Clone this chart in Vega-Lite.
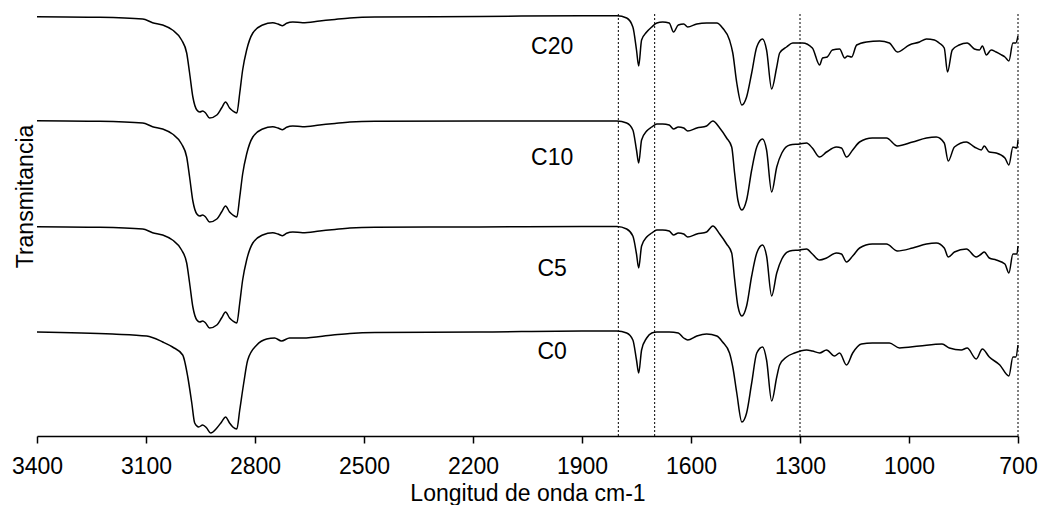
{
  "$schema": "https://vega.github.io/schema/vega-lite/v6.json",
  "width": 981,
  "height": 422,
  "autosize": {"type": "none"},
  "padding": {"left": 37, "top": 14, "right": 20, "bottom": 69},
  "background": "white",
  "config": {"view": {"stroke": null}, "font": "Liberation Sans"},
  "datasets": {
    "espectros": [
      {"serie":"C20","onda":3400,"T":419.3},{"serie":"C20","onda":3227,"T":418.7},{"serie":"C20","onda":3109,"T":417},{"serie":"C20","onda":3082,"T":413.3},{"serie":"C20","onda":3054,"T":411},{"serie":"C20","onda":3027,"T":406},{"serie":"C20","onda":3002,"T":396},{"serie":"C20","onda":2988,"T":383},{"serie":"C20","onda":2980,"T":363},{"serie":"C20","onda":2971,"T":339},{"serie":"C20","onda":2960,"T":326},{"serie":"C20","onda":2952,"T":324},{"serie":"C20","onda":2944,"T":325},{"serie":"C20","onda":2936,"T":323},{"serie":"C20","onda":2925,"T":318},{"serie":"C20","onda":2905,"T":321},{"serie":"C20","onda":2892,"T":328},{"serie":"C20","onda":2881,"T":334},{"serie":"C20","onda":2870,"T":328},{"serie":"C20","onda":2861,"T":325},{"serie":"C20","onda":2850,"T":323},{"serie":"C20","onda":2842,"T":343},{"serie":"C20","onda":2834,"T":366},{"serie":"C20","onda":2823,"T":386},{"serie":"C20","onda":2806,"T":403},{"serie":"C20","onda":2779,"T":411},{"serie":"C20","onda":2751,"T":413.3},{"serie":"C20","onda":2737,"T":412},{"serie":"C20","onda":2724,"T":410.3},{"serie":"C20","onda":2713,"T":412.7},{"serie":"C20","onda":2696,"T":414},{"serie":"C20","onda":2669,"T":413.3},{"serie":"C20","onda":2622,"T":415},{"serie":"C20","onda":2580,"T":416.6},{"serie":"C20","onda":2539,"T":418},{"serie":"C20","onda":2470,"T":419},{"serie":"C20","onda":2182,"T":419.5},{"serie":"C20","onda":1900,"T":420.3},{"serie":"C20","onda":1804,"T":420.3},{"serie":"C20","onda":1777,"T":418},{"serie":"C20","onda":1760,"T":409},{"serie":"C20","onda":1750,"T":386},{"serie":"C20","onda":1744,"T":370},{"serie":"C20","onda":1736,"T":396},{"serie":"C20","onda":1722,"T":404},{"serie":"C20","onda":1708,"T":409},{"serie":"C20","onda":1694,"T":413},{"serie":"C20","onda":1678,"T":414},{"serie":"C20","onda":1660,"T":413},{"serie":"C20","onda":1648,"T":404},{"serie":"C20","onda":1635,"T":411},{"serie":"C20","onda":1620,"T":412},{"serie":"C20","onda":1609,"T":409},{"serie":"C20","onda":1584,"T":412},{"serie":"C20","onda":1557,"T":413},{"serie":"C20","onda":1529,"T":413},{"serie":"C20","onda":1513,"T":408},{"serie":"C20","onda":1494,"T":396},{"serie":"C20","onda":1485,"T":383},{"serie":"C20","onda":1474,"T":353},{"serie":"C20","onda":1460,"T":331},{"serie":"C20","onda":1447,"T":339},{"serie":"C20","onda":1433,"T":363},{"serie":"C20","onda":1419,"T":389},{"serie":"C20","onda":1403,"T":397},{"serie":"C20","onda":1392,"T":386},{"serie":"C20","onda":1378,"T":347},{"serie":"C20","onda":1364,"T":369},{"serie":"C20","onda":1356,"T":383},{"serie":"C20","onda":1337,"T":389},{"serie":"C20","onda":1320,"T":393},{"serie":"C20","onda":1293,"T":393},{"serie":"C20","onda":1266,"T":388},{"serie":"C20","onda":1246,"T":371},{"serie":"C20","onda":1238,"T":378},{"serie":"C20","onda":1225,"T":379},{"serie":"C20","onda":1211,"T":386},{"serie":"C20","onda":1191,"T":387},{"serie":"C20","onda":1177,"T":378},{"serie":"C20","onda":1169,"T":380},{"serie":"C20","onda":1158,"T":379},{"serie":"C20","onda":1144,"T":391},{"serie":"C20","onda":1117,"T":394},{"serie":"C20","onda":1081,"T":395},{"serie":"C20","onda":1054,"T":393},{"serie":"C20","onda":1032,"T":384},{"serie":"C20","onda":999,"T":391},{"serie":"C20","onda":971,"T":394},{"serie":"C20","onda":952,"T":397},{"serie":"C20","onda":930,"T":396},{"serie":"C20","onda":917,"T":393},{"serie":"C20","onda":903,"T":388},{"serie":"C20","onda":894,"T":364},{"serie":"C20","onda":881,"T":386},{"serie":"C20","onda":862,"T":391},{"serie":"C20","onda":840,"T":393},{"serie":"C20","onda":820,"T":387},{"serie":"C20","onda":806,"T":386},{"serie":"C20","onda":798,"T":390},{"serie":"C20","onda":787,"T":381},{"serie":"C20","onda":774,"T":386},{"serie":"C20","onda":760,"T":384},{"serie":"C20","onda":745,"T":381},{"serie":"C20","onda":736,"T":379},{"serie":"C20","onda":725,"T":375},{"serie":"C20","onda":714,"T":393},{"serie":"C20","onda":706,"T":393},{"serie":"C20","onda":700,"T":400},

      {"serie":"C10","onda":3400,"T":315.3},{"serie":"C10","onda":3227,"T":314.7},{"serie":"C10","onda":3109,"T":313},{"serie":"C10","onda":3082,"T":309.3},{"serie":"C10","onda":3054,"T":307},{"serie":"C10","onda":3027,"T":302},{"serie":"C10","onda":3002,"T":292},{"serie":"C10","onda":2988,"T":279},{"serie":"C10","onda":2980,"T":259},{"serie":"C10","onda":2971,"T":235},{"serie":"C10","onda":2960,"T":222},{"serie":"C10","onda":2952,"T":220},{"serie":"C10","onda":2944,"T":221},{"serie":"C10","onda":2936,"T":219},{"serie":"C10","onda":2925,"T":214},{"serie":"C10","onda":2905,"T":217},{"serie":"C10","onda":2892,"T":224},{"serie":"C10","onda":2881,"T":230},{"serie":"C10","onda":2870,"T":224},{"serie":"C10","onda":2861,"T":221},{"serie":"C10","onda":2850,"T":219},{"serie":"C10","onda":2842,"T":239},{"serie":"C10","onda":2834,"T":262},{"serie":"C10","onda":2823,"T":282},{"serie":"C10","onda":2806,"T":299},{"serie":"C10","onda":2779,"T":307},{"serie":"C10","onda":2751,"T":309.3},{"serie":"C10","onda":2737,"T":308},{"serie":"C10","onda":2724,"T":306.3},{"serie":"C10","onda":2713,"T":308.7},{"serie":"C10","onda":2696,"T":310},{"serie":"C10","onda":2669,"T":309.3},{"serie":"C10","onda":2622,"T":311},{"serie":"C10","onda":2580,"T":312.6},{"serie":"C10","onda":2539,"T":314},{"serie":"C10","onda":2470,"T":314.8},{"serie":"C10","onda":2182,"T":315},{"serie":"C10","onda":1900,"T":315},{"serie":"C10","onda":1804,"T":315},{"serie":"C10","onda":1777,"T":313},{"serie":"C10","onda":1760,"T":306},{"serie":"C10","onda":1750,"T":286},{"serie":"C10","onda":1744,"T":273},{"serie":"C10","onda":1736,"T":296},{"serie":"C10","onda":1722,"T":305},{"serie":"C10","onda":1708,"T":309},{"serie":"C10","onda":1694,"T":312},{"serie":"C10","onda":1678,"T":312},{"serie":"C10","onda":1660,"T":311},{"serie":"C10","onda":1648,"T":307},{"serie":"C10","onda":1635,"T":309},{"serie":"C10","onda":1620,"T":308},{"serie":"C10","onda":1609,"T":305},{"serie":"C10","onda":1584,"T":308},{"serie":"C10","onda":1557,"T":310},{"serie":"C10","onda":1540,"T":315},{"serie":"C10","onda":1521,"T":308},{"serie":"C10","onda":1502,"T":298},{"serie":"C10","onda":1488,"T":289},{"serie":"C10","onda":1480,"T":263},{"serie":"C10","onda":1471,"T":236},{"serie":"C10","onda":1460,"T":226},{"serie":"C10","onda":1447,"T":236},{"serie":"C10","onda":1433,"T":266},{"serie":"C10","onda":1419,"T":289},{"serie":"C10","onda":1403,"T":297},{"serie":"C10","onda":1392,"T":286},{"serie":"C10","onda":1378,"T":244},{"serie":"C10","onda":1364,"T":269},{"serie":"C10","onda":1350,"T":283},{"serie":"C10","onda":1328,"T":291},{"serie":"C10","onda":1301,"T":292},{"serie":"C10","onda":1282,"T":293},{"serie":"C10","onda":1266,"T":288},{"serie":"C10","onda":1246,"T":279},{"serie":"C10","onda":1227,"T":284},{"serie":"C10","onda":1200,"T":289},{"serie":"C10","onda":1186,"T":288},{"serie":"C10","onda":1172,"T":279},{"serie":"C10","onda":1155,"T":286},{"serie":"C10","onda":1136,"T":294},{"serie":"C10","onda":1101,"T":298},{"serie":"C10","onda":1062,"T":298},{"serie":"C10","onda":1032,"T":290},{"serie":"C10","onda":990,"T":294},{"serie":"C10","onda":952,"T":298},{"serie":"C10","onda":925,"T":299},{"serie":"C10","onda":903,"T":293},{"serie":"C10","onda":892,"T":275},{"serie":"C10","onda":875,"T":289},{"serie":"C10","onda":842,"T":294},{"serie":"C10","onda":820,"T":289},{"serie":"C10","onda":801,"T":286},{"serie":"C10","onda":793,"T":290},{"serie":"C10","onda":779,"T":284},{"serie":"C10","onda":760,"T":283},{"serie":"C10","onda":736,"T":278},{"serie":"C10","onda":725,"T":271},{"serie":"C10","onda":714,"T":289},{"serie":"C10","onda":703,"T":288},{"serie":"C10","onda":700,"T":296},

      {"serie":"C5","onda":3400,"T":209.3},{"serie":"C5","onda":3227,"T":208.7},{"serie":"C5","onda":3109,"T":207},{"serie":"C5","onda":3082,"T":203.3},{"serie":"C5","onda":3054,"T":201},{"serie":"C5","onda":3027,"T":196},{"serie":"C5","onda":3002,"T":186},{"serie":"C5","onda":2988,"T":173},{"serie":"C5","onda":2980,"T":153},{"serie":"C5","onda":2971,"T":129},{"serie":"C5","onda":2960,"T":116},{"serie":"C5","onda":2952,"T":114},{"serie":"C5","onda":2944,"T":115},{"serie":"C5","onda":2936,"T":113},{"serie":"C5","onda":2925,"T":108},{"serie":"C5","onda":2905,"T":111},{"serie":"C5","onda":2892,"T":118},{"serie":"C5","onda":2881,"T":124},{"serie":"C5","onda":2870,"T":118},{"serie":"C5","onda":2861,"T":115},{"serie":"C5","onda":2850,"T":113},{"serie":"C5","onda":2842,"T":133},{"serie":"C5","onda":2834,"T":156},{"serie":"C5","onda":2823,"T":176},{"serie":"C5","onda":2806,"T":193},{"serie":"C5","onda":2779,"T":201},{"serie":"C5","onda":2751,"T":203.3},{"serie":"C5","onda":2737,"T":202},{"serie":"C5","onda":2724,"T":200.3},{"serie":"C5","onda":2713,"T":202.7},{"serie":"C5","onda":2696,"T":204},{"serie":"C5","onda":2669,"T":203.3},{"serie":"C5","onda":2622,"T":205},{"serie":"C5","onda":2580,"T":206.6},{"serie":"C5","onda":2539,"T":208},{"serie":"C5","onda":2470,"T":208.8},{"serie":"C5","onda":2182,"T":209},{"serie":"C5","onda":1900,"T":209.5},{"serie":"C5","onda":1804,"T":209.5},{"serie":"C5","onda":1777,"T":207},{"serie":"C5","onda":1760,"T":200},{"serie":"C5","onda":1750,"T":182},{"serie":"C5","onda":1744,"T":168},{"serie":"C5","onda":1736,"T":190},{"serie":"C5","onda":1722,"T":199},{"serie":"C5","onda":1708,"T":203},{"serie":"C5","onda":1694,"T":206},{"serie":"C5","onda":1678,"T":206},{"serie":"C5","onda":1660,"T":205},{"serie":"C5","onda":1648,"T":201},{"serie":"C5","onda":1635,"T":203},{"serie":"C5","onda":1620,"T":202},{"serie":"C5","onda":1609,"T":199},{"serie":"C5","onda":1584,"T":202},{"serie":"C5","onda":1557,"T":204},{"serie":"C5","onda":1540,"T":210},{"serie":"C5","onda":1521,"T":202},{"serie":"C5","onda":1502,"T":192},{"serie":"C5","onda":1488,"T":183},{"serie":"C5","onda":1480,"T":157},{"serie":"C5","onda":1471,"T":130},{"serie":"C5","onda":1460,"T":120},{"serie":"C5","onda":1447,"T":130},{"serie":"C5","onda":1433,"T":160},{"serie":"C5","onda":1419,"T":183},{"serie":"C5","onda":1403,"T":191},{"serie":"C5","onda":1392,"T":180},{"serie":"C5","onda":1378,"T":140},{"serie":"C5","onda":1364,"T":163},{"serie":"C5","onda":1350,"T":177},{"serie":"C5","onda":1328,"T":185},{"serie":"C5","onda":1301,"T":186},{"serie":"C5","onda":1282,"T":187},{"serie":"C5","onda":1266,"T":182},{"serie":"C5","onda":1246,"T":176},{"serie":"C5","onda":1227,"T":178},{"serie":"C5","onda":1200,"T":183},{"serie":"C5","onda":1186,"T":182},{"serie":"C5","onda":1172,"T":174},{"serie":"C5","onda":1155,"T":180},{"serie":"C5","onda":1136,"T":188},{"serie":"C5","onda":1101,"T":192},{"serie":"C5","onda":1062,"T":192},{"serie":"C5","onda":1032,"T":185},{"serie":"C5","onda":990,"T":188},{"serie":"C5","onda":952,"T":192},{"serie":"C5","onda":925,"T":193},{"serie":"C5","onda":903,"T":188},{"serie":"C5","onda":892,"T":179},{"serie":"C5","onda":875,"T":184},{"serie":"C5","onda":842,"T":187},{"serie":"C5","onda":815,"T":179},{"serie":"C5","onda":801,"T":182},{"serie":"C5","onda":793,"T":184},{"serie":"C5","onda":779,"T":178},{"serie":"C5","onda":760,"T":176},{"serie":"C5","onda":736,"T":172},{"serie":"C5","onda":725,"T":163},{"serie":"C5","onda":714,"T":182},{"serie":"C5","onda":703,"T":182},{"serie":"C5","onda":700,"T":190},

      {"serie":"C0","onda":3400,"T":104},{"serie":"C0","onda":3192,"T":102},{"serie":"C0","onda":3098,"T":100},{"serie":"C0","onda":3054,"T":94},{"serie":"C0","onda":3027,"T":89},{"serie":"C0","onda":2999,"T":81},{"serie":"C0","onda":2985,"T":59},{"serie":"C0","onda":2974,"T":33},{"serie":"C0","onda":2966,"T":13},{"serie":"C0","onda":2955,"T":9},{"serie":"C0","onda":2944,"T":11},{"serie":"C0","onda":2933,"T":8},{"serie":"C0","onda":2922,"T":3},{"serie":"C0","onda":2905,"T":8},{"serie":"C0","onda":2892,"T":14},{"serie":"C0","onda":2881,"T":19},{"serie":"C0","onda":2870,"T":13},{"serie":"C0","onda":2861,"T":9},{"serie":"C0","onda":2850,"T":7},{"serie":"C0","onda":2842,"T":26},{"serie":"C0","onda":2831,"T":53},{"serie":"C0","onda":2820,"T":76},{"serie":"C0","onda":2795,"T":91},{"serie":"C0","onda":2768,"T":97},{"serie":"C0","onda":2746,"T":98},{"serie":"C0","onda":2727,"T":95},{"serie":"C0","onda":2705,"T":98},{"serie":"C0","onda":2669,"T":98},{"serie":"C0","onda":2586,"T":101},{"serie":"C0","onda":2539,"T":102.6},{"serie":"C0","onda":2470,"T":103.6},{"serie":"C0","onda":2182,"T":104},{"serie":"C0","onda":1900,"T":105},{"serie":"C0","onda":1804,"T":105},{"serie":"C0","onda":1777,"T":103},{"serie":"C0","onda":1760,"T":96},{"serie":"C0","onda":1750,"T":76},{"serie":"C0","onda":1744,"T":63},{"serie":"C0","onda":1736,"T":86},{"serie":"C0","onda":1722,"T":98},{"serie":"C0","onda":1708,"T":103},{"serie":"C0","onda":1694,"T":104},{"serie":"C0","onda":1660,"T":104},{"serie":"C0","onda":1635,"T":103},{"serie":"C0","onda":1620,"T":98},{"serie":"C0","onda":1609,"T":96},{"serie":"C0","onda":1584,"T":100},{"serie":"C0","onda":1557,"T":102},{"serie":"C0","onda":1529,"T":100},{"serie":"C0","onda":1513,"T":94},{"serie":"C0","onda":1494,"T":83},{"serie":"C0","onda":1485,"T":69},{"serie":"C0","onda":1474,"T":43},{"serie":"C0","onda":1460,"T":14},{"serie":"C0","onda":1447,"T":23},{"serie":"C0","onda":1433,"T":53},{"serie":"C0","onda":1419,"T":83},{"serie":"C0","onda":1403,"T":89},{"serie":"C0","onda":1392,"T":76},{"serie":"C0","onda":1378,"T":35},{"serie":"C0","onda":1364,"T":59},{"serie":"C0","onda":1356,"T":71},{"serie":"C0","onda":1337,"T":79},{"serie":"C0","onda":1315,"T":83},{"serie":"C0","onda":1282,"T":86},{"serie":"C0","onda":1266,"T":85},{"serie":"C0","onda":1246,"T":83},{"serie":"C0","onda":1227,"T":86},{"serie":"C0","onda":1205,"T":80},{"serie":"C0","onda":1191,"T":83},{"serie":"C0","onda":1172,"T":71},{"serie":"C0","onda":1155,"T":83},{"serie":"C0","onda":1131,"T":92},{"serie":"C0","onda":1101,"T":93},{"serie":"C0","onda":1054,"T":93},{"serie":"C0","onda":1026,"T":88},{"serie":"C0","onda":971,"T":90},{"serie":"C0","onda":909,"T":92},{"serie":"C0","onda":889,"T":88},{"serie":"C0","onda":856,"T":86},{"serie":"C0","onda":840,"T":88},{"serie":"C0","onda":815,"T":77},{"serie":"C0","onda":798,"T":87},{"serie":"C0","onda":779,"T":79},{"serie":"C0","onda":750,"T":71},{"serie":"C0","onda":725,"T":60},{"serie":"C0","onda":714,"T":79},{"serie":"C0","onda":706,"T":79},{"serie":"C0","onda":700,"T":91}
    ],
    "etiquetas": [
      {"texto":"C20","onda":1982,"T":389},
      {"texto":"C10","onda":1982,"T":278},
      {"texto":"C5","onda":1982,"T":167},
      {"texto":"C0","onda":1982,"T":84}
    ],
    "referencias": [
      {"onda":1800},{"onda":1700},{"onda":1300},{"onda":700}
    ]
  },
  "layer": [
    {
      "data": {"name": "referencias"},
      "mark": {"type": "rule", "color": "#000000", "strokeWidth": 1, "strokeDash": [2, 2]},
      "encoding": {
        "x": {
          "field": "onda", "type": "quantitative",
          "scale": {"domain": [700, 3400], "reverse": true, "nice": false, "zero": false},
          "axis": {
            "title": "Longitud de onda cm-1",
            "values": [3400, 3100, 2800, 2500, 2200, 1900, 1600, 1300, 1000, 700],
            "format": "d",
            "grid": false,
            "domainColor": "#000000", "domainWidth": 1.5,
            "tickColor": "#000000", "tickWidth": 1.5, "tickSize": 7,
            "labelFontSize": 23, "labelColor": "#000000", "labelPadding": 12,
            "labelFlush": false, "labelOverlap": false, "labelFont": "Liberation Sans",
            "titleFontSize": 23, "titleFontWeight": "normal", "titleColor": "#000000", "titlePadding": 4, "titleFont": "Liberation Sans"
          }
        }
      }
    },
    {
      "data": {"name": "espectros"},
      "mark": {"type": "line", "color": "#000000", "strokeWidth": 1.5, "interpolate": "monotone"},
      "encoding": {
        "x": {
          "field": "onda", "type": "quantitative",
          "scale": {"domain": [700, 3400], "reverse": true, "nice": false, "zero": false},
          "axis": {
            "title": "Longitud de onda cm-1",
            "values": [3400, 3100, 2800, 2500, 2200, 1900, 1600, 1300, 1000, 700],
            "format": "d",
            "grid": false,
            "domainColor": "#000000", "domainWidth": 1.5,
            "tickColor": "#000000", "tickWidth": 1.5, "tickSize": 7,
            "labelFontSize": 23, "labelColor": "#000000", "labelPadding": 12,
            "labelFlush": false, "labelOverlap": false, "labelFont": "Liberation Sans",
            "titleFontSize": 23, "titleFontWeight": "normal", "titleColor": "#000000", "titlePadding": 4, "titleFont": "Liberation Sans"
          }
        },
        "y": {
          "field": "T", "type": "quantitative",
          "scale": {"domain": [0, 422], "nice": false, "zero": false},
          "axis": {
            "title": "Transmitancia",
            "domain": false, "ticks": false, "labels": false, "grid": false,
            "titleFontSize": 23, "titleFontWeight": "normal", "titleColor": "#000000", "titleFont": "Liberation Sans",
            "titleAngle": 270, "titleX": -5, "titleY": 182, "titleBaseline": "alphabetic", "titleAlign": "center"
          }
        },
        "detail": {"field": "serie", "type": "nominal"}
      }
    },
    {
      "data": {"name": "etiquetas"},
      "mark": {"type": "text", "fontSize": 23, "font": "Liberation Sans", "color": "#000000", "align": "center", "baseline": "middle"},
      "encoding": {
        "x": {
          "field": "onda", "type": "quantitative",
          "scale": {"domain": [700, 3400], "reverse": true, "nice": false, "zero": false},
          "axis": {
            "title": "Longitud de onda cm-1",
            "values": [3400, 3100, 2800, 2500, 2200, 1900, 1600, 1300, 1000, 700],
            "format": "d",
            "grid": false,
            "domainColor": "#000000", "domainWidth": 1.5,
            "tickColor": "#000000", "tickWidth": 1.5, "tickSize": 7,
            "labelFontSize": 23, "labelColor": "#000000", "labelPadding": 12,
            "labelFlush": false, "labelOverlap": false, "labelFont": "Liberation Sans",
            "titleFontSize": 23, "titleFontWeight": "normal", "titleColor": "#000000", "titlePadding": 4, "titleFont": "Liberation Sans"
          }
        },
        "y": {
          "field": "T", "type": "quantitative",
          "scale": {"domain": [0, 422], "nice": false, "zero": false},
          "axis": {
            "title": "Transmitancia",
            "domain": false, "ticks": false, "labels": false, "grid": false,
            "titleFontSize": 23, "titleFontWeight": "normal", "titleColor": "#000000", "titleFont": "Liberation Sans",
            "titleAngle": 270, "titleX": -5, "titleY": 182, "titleBaseline": "alphabetic", "titleAlign": "center"
          }
        },
        "text": {"field": "texto"}
      }
    }
  ]
}
